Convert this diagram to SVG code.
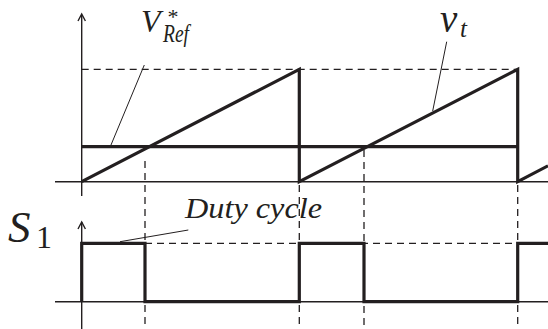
<svg xmlns="http://www.w3.org/2000/svg" width="548" height="329" viewBox="0 0 548 329">
<defs>
<style>
.thin{stroke:#231f20;stroke-width:1.4;fill:none}
.thick{stroke:#231f20;stroke-width:3.2;fill:none;stroke-linejoin:miter}
.dash{stroke:#231f20;stroke-width:1.3;fill:none;stroke-dasharray:7,5}
.lead{stroke:#231f20;stroke-width:1;fill:none}
.t{font-family:"Liberation Serif",serif;font-style:italic;fill:#231f20}
.u{font-style:normal}
</style>
</defs>
<g id="axes">
<line class="thin" x1="81.7" y1="196" x2="81.7" y2="15"/>
<path class="thin" d="M78,21 L81.7,14 L85.4,21"/>
<line class="thin" x1="55" y1="181.7" x2="548" y2="181.7"/>
<line class="thin" x1="81.7" y1="329" x2="81.7" y2="222"/>
<path class="thin" d="M78,229 L81.7,222 L85.4,229"/>
<line class="thin" x1="55" y1="301.7" x2="548" y2="301.7"/>
</g>
<g id="guides">
<line class="dash" x1="81.7" y1="69.3" x2="517.7" y2="69.3"/>
<line class="dash" x1="145" y1="243.3" x2="517.7" y2="243.3"/>
<line class="dash" x1="145" y1="161" x2="145" y2="329"/>
<line class="dash" x1="364" y1="150" x2="364" y2="329"/>
<line class="dash" x1="299.3" y1="185" x2="299.3" y2="329"/>
<line class="dash" x1="517.7" y1="185" x2="517.7" y2="329"/>
</g>
<g id="vref">
<line class="thick" x1="81.7" y1="146.7" x2="517.7" y2="146.7"/>
</g>
<g id="carrier">
<path class="thick" d="M81.7,181.7 L299.3,69.3 L299.3,181.7 L517.7,69.3 L517.7,181.7 L548,165.8"/>
</g>
<g id="pulse">
<path class="thick" d="M81.7,301.7 L81.7,243.3 L145,243.3 L145,301.7 L299.3,301.7 L299.3,243.3 L364,243.3 L364,301.7 L517.7,301.7 L517.7,243.3 L548,243.3"/>
</g>
<g id="leaders">
<line class="lead" x1="144.3" y1="65" x2="110.7" y2="145.7"/>
<line class="lead" x1="446.7" y1="41.7" x2="432.7" y2="111"/>
<line class="lead" x1="120" y1="241.7" x2="188.3" y2="230"/>
</g>
<g id="labels">
<text class="t" x="141" y="31.7" font-size="32">V<tspan class="u" x="167.5" y="24" font-size="22">*</tspan><tspan x="163" y="41.7" font-size="25" textLength="26" lengthAdjust="spacingAndGlyphs">Ref</tspan></text>
<text class="t" x="440" y="32" font-size="39">v<tspan x="460" y="36.7" font-size="25">t</tspan></text>
<text class="t" x="185" y="218.3" font-size="29" textLength="137" lengthAdjust="spacingAndGlyphs">Duty cycle</text>
<text class="t" x="8" y="241.7" font-size="45">S<tspan class="u" x="36" y="248.3" font-size="32">1</tspan></text>
</g>
</svg>
